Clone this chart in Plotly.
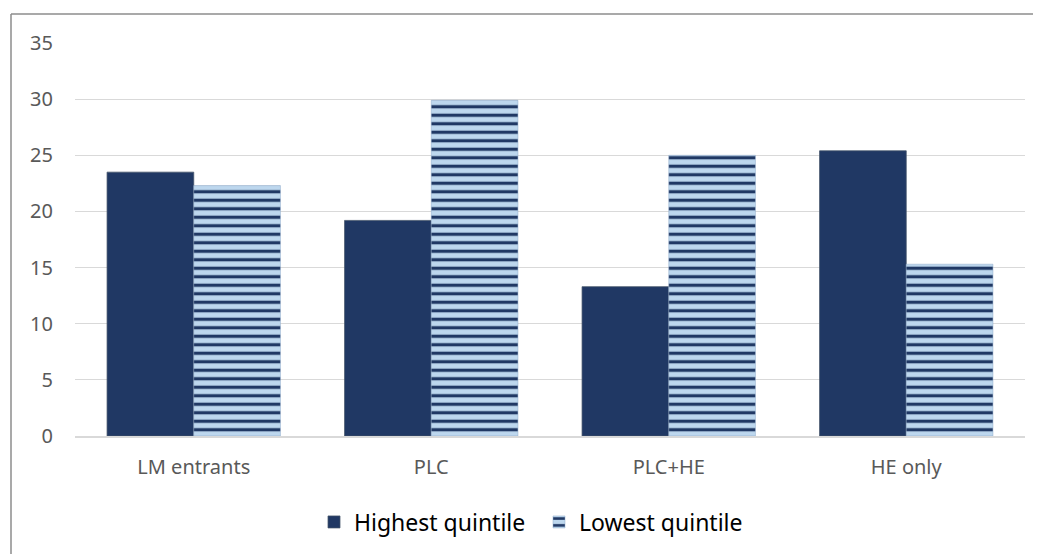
import plotly.graph_objects as go

categories = ["LM entrants", "PLC", "PLC+HE", "HE only"]
highest = [23.5, 19.2, 13.3, 25.4]
lowest = [22.3, 29.9, 25.0, 15.3]
yticks = [0, 5, 10, 15, 20, 25, 30, 35]

NAVY = "#203864"
LIGHT = "#BDD7EE"

fig = go.Figure()
fig.add_trace(go.Bar(
    x=categories, y=highest, name="Highest quintile",
    marker=dict(color=NAVY, line=dict(color="#44546A", width=0.75)),
))
fig.add_trace(go.Bar(
    x=categories, y=lowest, name="Lowest quintile",
    marker=dict(color=LIGHT,
                pattern=dict(shape="-", fgcolor=NAVY, bgcolor=LIGHT, size=8.5,
                             solidity=0.38, fillmode="replace"),
                line=dict(color="#8EA9C8", width=0.5)),
))

# page body has an 8px margin; figure coordinates = screen - 8
OFF = 8
W, H = 1041 - OFF, 554 - OFF
L, R, T, B = 75 - OFF, 16, 43 - OFF, 117
pw, ph = W - L - R, H - T - B

def px(x):
    return (x - OFF - L) / pw

def py(y):
    return (H - B - (y - OFF)) / ph

fig.update_layout(
    width=W, height=H,
    margin=dict(l=L, r=R, t=T, b=B),
    paper_bgcolor="white", plot_bgcolor="white",
    barmode="group", bargap=0.27, bargroupgap=0,
    font=dict(family="Noto Sans, Liberation Sans, sans-serif", size=20, color="#595959"),
    xaxis=dict(showgrid=False, showline=True, linecolor="#D9D9D9", linewidth=1.5,
               ticks="", ticklabelstandoff=12, tickfont=dict(size=20, color="#595959")),
    yaxis=dict(range=[0, 35], tickvals=yticks, ticktext=[str(v) for v in yticks],
               showgrid=True, gridcolor="#D9D9D9", gridwidth=1, zeroline=False,
               showline=False, ticks="", ticklabelstandoff=21,
               tickfont=dict(size=20, color="#595959")),
    legend=dict(orientation="h", x=px(539), xanchor="center", y=py(522), yanchor="middle",
                font=dict(size=23, color="#000000"), traceorder="normal",
                entrywidth=180, entrywidthmode="pixels"),
    showlegend=True,
    shapes=[
        dict(type="line", xref="paper", yref="paper", x0=px(11), x1=px(1060),
             y0=py(14), y1=py(14), line=dict(color="#8C8C8C", width=1.5)),
        dict(type="line", xref="paper", yref="paper", x0=px(11), x1=px(11),
             y0=py(14), y1=py(580), line=dict(color="#8C8C8C", width=1.5)),
    ],
)

fig.write_html("out.html")
